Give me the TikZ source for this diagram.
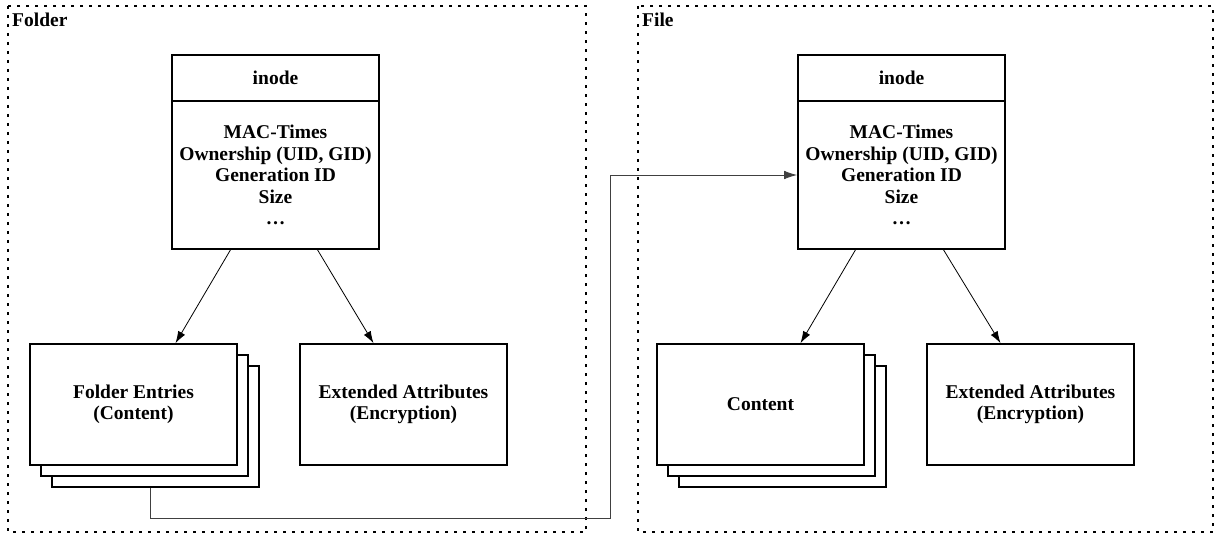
\documentclass[tikz,border=0pt]{standalone}
\usepackage{fontspec}
\setmainfont{Liberation Serif}
\usetikzlibrary{arrows.meta,positioning}
\begin{document}
\begin{tikzpicture}[x=1pt,y=-1pt,
  txt/.style={font=\fontsize{19.5}{21.5}\selectfont\bfseries, align=center},
  frame/.style={draw, line width=1.8pt, dash pattern=on 3pt off 6pt},
  box/.style={draw, line width=1.6pt, fill=white, inner sep=0pt, txt},
  edge/.style={line width=0.8pt, -{Latex[length=12pt,width=8pt]}},
  conn/.style={draw=black!75, line width=0.9pt, -{Latex[length=13pt,width=8.5pt]}}]
\useasboundingbox (0,0) rectangle (1215,537);

% group frames
\draw[frame] (8,6) rectangle (586,532);
\draw[frame] (638,6) rectangle (1213,532);
\node[txt, anchor=north west, inner sep=0pt] (lblFolder) at (12,13) {Folder};
\node[txt, anchor=north west, inner sep=0pt] (lblFile) at (642,13) {File};

% folder inode: header and attribute list
\node[box, minimum width=207pt, minimum height=46pt] (inodeL) at (275.5,78) {inode};
\node[box, minimum width=207pt, minimum height=148pt, text depth=-4pt] (inodeLb) at (275.5,175)
  {MAC-Times\\Ownership (UID, GID)\\Generation ID\\Size\\\dots};

% folder entries (stack)
\node[box, minimum width=207pt, minimum height=121pt] (fe3) at (155.5,426.5) {};
\node[box, minimum width=207pt, minimum height=121pt] (fe2) at (144.5,415.5) {};
\node[box, minimum width=207pt, minimum height=121pt] (fe1) at (133.5,404.5) {Folder Entries\\(Content)};
\node[box, minimum width=207pt, minimum height=121pt] (xaL) at (403.5,404.5) {Extended Attributes\\(Encryption)};

% file inode: header and attribute list
\node[box, minimum width=207pt, minimum height=46pt] (inodeR) at (901.5,78) {inode};
\node[box, minimum width=207pt, minimum height=148pt, text depth=-4pt] (inodeRb) at (901.5,175)
  {MAC-Times\\Ownership (UID, GID)\\Generation ID\\Size\\\dots};

% file content (stack)
\node[box, minimum width=207pt, minimum height=121pt] (fc3) at (782.5,426.5) {};
\node[box, minimum width=207pt, minimum height=121pt] (fc2) at (771.5,415.5) {};
\node[box, minimum width=207pt, minimum height=121pt] (fc1) at (760.5,404.5) {Content};
\node[box, minimum width=207pt, minimum height=121pt] (xaR) at (1030.5,404.5) {Extended Attributes\\(Encryption)};

% inode references
\draw[edge] ([xshift=-45pt]inodeLb.south) -- ([xshift=42pt]fe1.north);
\draw[edge] ([xshift=42pt]inodeLb.south) -- ([xshift=-30pt]xaL.north);
\draw[edge] ([xshift=-46pt]inodeRb.south) -- ([xshift=40pt]fc1.north);
\draw[edge] ([xshift=42pt]inodeRb.south) -- ([xshift=-30pt]xaR.north);

% folder entry pointing to the file inode
\coordinate (turn) at (610,518);
\draw[conn] ([xshift=-5pt]fe3.south) |- (turn) |- (inodeRb.west);
\end{tikzpicture}
\end{document}
